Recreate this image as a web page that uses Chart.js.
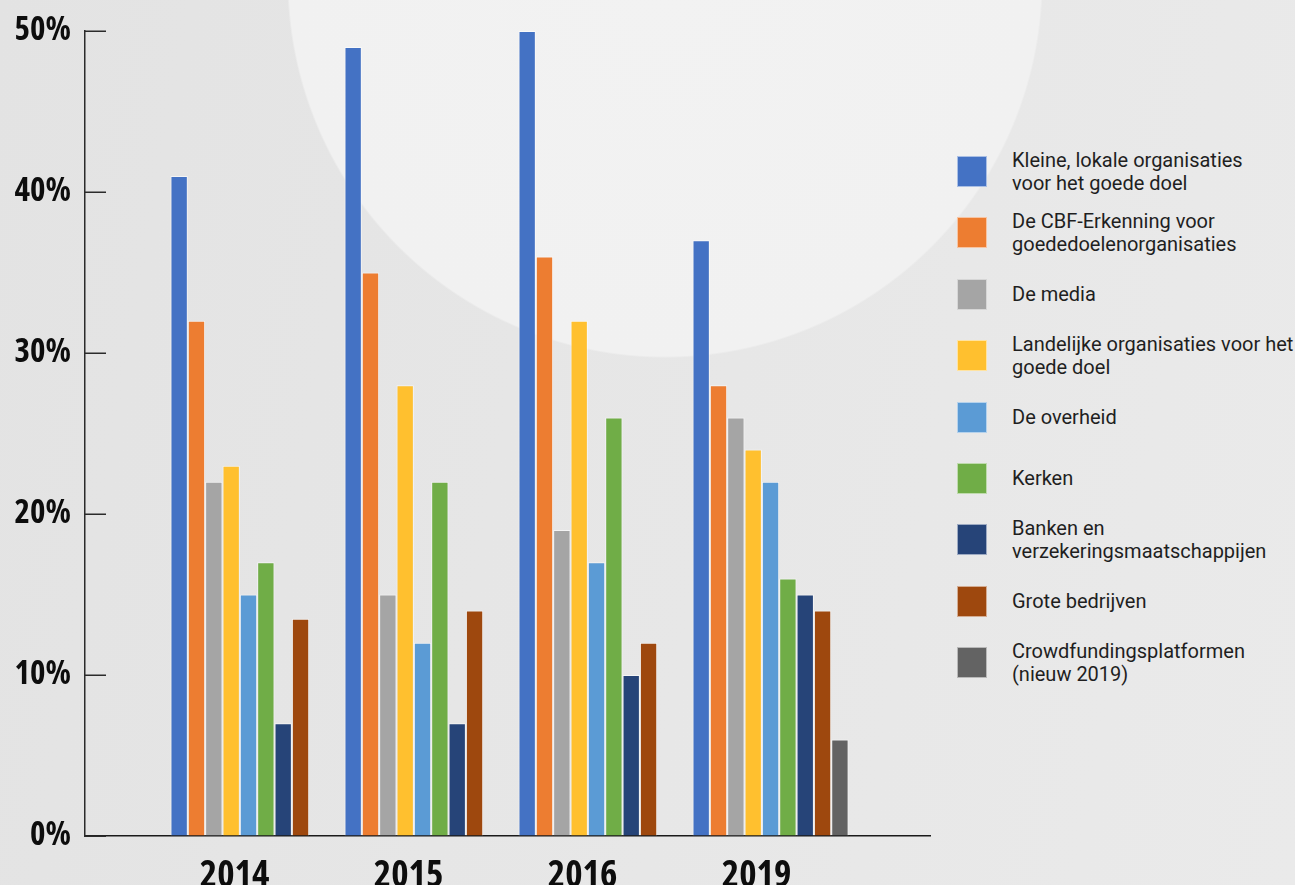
<!DOCTYPE html>
<html>
<head>
<meta charset="utf-8">
<script src="https://cdn.jsdelivr.net/npm/chart.js@4.4.1/dist/chart.umd.min.js"></script>
<style>
  html, body { margin: 0; padding: 0; width: 1295px; height: 885px; overflow: hidden; }
  body {
    position: relative;
    background:
      radial-gradient(circle 378px at 665px -20px, #f2f2f2 0, #f1f1f1 99.5%, rgba(241,241,241,0) 100%),
      linear-gradient(100deg, #e3e3e3 0, #e6e6e6 40%, #eaeaea 100%);
  }
  #wrap { position: absolute; left: 0; top: 0; width: 940px; height: 892px; }
  #legend { position: absolute; left: 957px; top: 156px; width: 338px; }
  #legend .item { position: absolute; left: 0; height: 31px; display: flex; align-items: center; }
  #legend .box { width: 30px; height: 31px; box-sizing: border-box; border: 1px solid rgba(255,255,255,0.55); flex: none; }
  #legend .txt {
    margin-left: 25px; white-space: pre; color: #1f1f1f;
    font-family: Roboto, "Noto Sans", sans-serif; font-size: 20px; line-height: 23px;
  }
</style>
</head>
<body>
<div id="wrap"><canvas id="chart"></canvas></div>
<div id="legend"></div>
<script>
(function() {

  // ***************************************************
  // Data
  // ***************************************************

  var years = ['2014', '2015', '2016', '2019'];

  var seriesNames = [
    'Kleine, lokale organisaties\nvoor het goede doel',
    'De CBF-Erkenning voor\ngoededoelenorganisaties',
    'De media',
    'Landelijke organisaties voor het\ngoede doel',
    'De overheid',
    'Kerken',
    'Banken en\nverzekeringsmaatschappijen',
    'Grote bedrijven',
    'Crowdfundingsplatformen\n(nieuw 2019)'
  ];

  var seriesColors = ['#4472c4', '#ed7d31', '#a5a5a5', '#ffc02f', '#5b9bd5',
                      '#70ad47', '#264478', '#9e480e', '#636363'];

  var kleineLokale   = [41, 49, 50, 37];
  var cbfErkenning   = [32, 35, 36, 28];
  var media          = [22, 15, 19, 26];
  var landelijke     = [23, 28, 32, 24];
  var overheid       = [15, 12, 17, 22];
  var kerken         = [17, 22, 26, 16];
  var banken         = [7, 7, 10, 15];
  var groteBedrijven = [13.5, 14, 12, 14];
  var crowdfunding   = [null, null, null, 6];

  var yTicks = [0, 10, 20, 30, 40, 50];

  var seriesValues = [kleineLokale, cbfErkenning, media, landelijke, overheid,
                      kerken, banken, groteBedrijven, crowdfunding];

  // ***************************************************
  // Pick the narrowest bold face that is installed
  // ***************************************************

  function pickCondensed() {
    var candidates = [
      { family: "'Liberation Sans Narrow'", weight: 'bold' },
      { family: "'DejaVu Sans Condensed'", weight: 'bold' },
      { family: "'DejaVu Sans'", weight: 'bold condensed' },
      { family: "'Open Sans'", weight: 'bold condensed' },
      { family: "'Noto Sans'", weight: 'bold condensed' },
      { family: "Roboto", weight: 'bold condensed' },
      { family: "Roboto", weight: 'bold' }
    ];
    var ctx = document.createElement('canvas').getContext('2d');
    var best = null;
    candidates.forEach(function(c) {
      ctx.font = c.weight + ' 100px ' + c.family;
      var w = ctx.measureText('2014').width;
      if (!best || w < best.w) best = { family: c.family, weight: c.weight, w: w };
    });
    // "2014" is about 1.84 em wide in the original face
    best.scale = Math.max(0.8, Math.min(1, 184 / best.w));
    return best;
  }

  var face = pickCondensed();

  // inward tick marks on the value axis
  var innerTicks = {
    id: 'innerTicks',
    afterDatasetsDraw: function(chart) {
      var y = chart.scales.y, ctx = chart.ctx, x0 = chart.chartArea.left;
      ctx.save();
      ctx.strokeStyle = '#2b2b2b';
      ctx.lineWidth = 1.5;
      yTicks.forEach(function(v) {
        var py = Math.round(y.getPixelForValue(v)) + 0.25;
        ctx.beginPath();
        ctx.moveTo(x0, py);
        ctx.lineTo(x0 + 21, py);
        ctx.stroke();
      });
      ctx.restore();
    }
  };

  // ***************************************************
  // Chart
  // ***************************************************

  var datasets = seriesValues.map(function(values, i) {
    return {
      label: seriesNames[i],
      data: values,
      backgroundColor: seriesColors[i],
      borderColor: 'rgba(255,255,255,0.6)',
      borderWidth: 1,
      borderSkipped: 'bottom',
      categoryPercentage: 0.897,
      barPercentage: 1.0
    };
  });

  new Chart(document.getElementById('chart'), {
    type: 'bar',
    data: { labels: years, datasets: datasets },
    plugins: [innerTicks],
    options: {
      responsive: true,
      maintainAspectRatio: false,
      animation: false,
      layout: { padding: { top: 31, right: 10, left: 0, bottom: 0 } },
      plugins: { legend: { display: false }, tooltip: { enabled: false } },
      scales: {
        x: {
          grid: { display: false },
          border: { display: true, color: '#1a1a1a', width: 1.5 },
          // widen the axis beyond the four year groups, like the original
          afterBuildTicks: function(scale) {
            scale._startValue = -0.9397;
            scale._valueRange = 4.856;
          },
          afterFit: function(scale) {
            scale.height = 56;
            scale.paddingLeft = 0;
            scale.paddingRight = 0;
          },
          ticks: {
            color: '#0d0d0d',
            padding: 10,
            labelOffset: -14,
            font: { family: face.family, weight: face.weight, size: Math.round(38 * face.scale) }
          }
        },
        y: {
          min: 0,
          max: 50,
          afterBuildTicks: function(scale) {
            scale.ticks = yTicks.map(function(v) { return { value: v }; });
          },
          afterFit: function(scale) {
            scale.width = 85;
            scale.paddingTop = 0;
            scale.paddingBottom = 0;
          },
          grid: { drawOnChartArea: false, drawTicks: true, tickLength: -21, color: 'rgba(0,0,0,0)' },
          border: { color: '#2b2b2b', width: 1.5 },
          ticks: {
            color: '#0d0d0d',
            padding: 35,
            font: { family: face.family, weight: face.weight, size: Math.round(34 * face.scale) },
            callback: function(v) { return v + '%'; }
          }
        }
      }
    }
  });

  // ***************************************************
  // Legend
  // ***************************************************

  var legend = document.getElementById('legend');
  seriesNames.forEach(function(name, i) {
    var item = document.createElement('div');
    item.className = 'item';
    item.style.top = (i * 61.4) + 'px';
    var box = document.createElement('div');
    box.className = 'box';
    box.style.background = seriesColors[i];
    var txt = document.createElement('div');
    txt.className = 'txt';
    txt.textContent = name;
    item.appendChild(box);
    item.appendChild(txt);
    legend.appendChild(item);
  });

})();
</script>
</body>
</html>
